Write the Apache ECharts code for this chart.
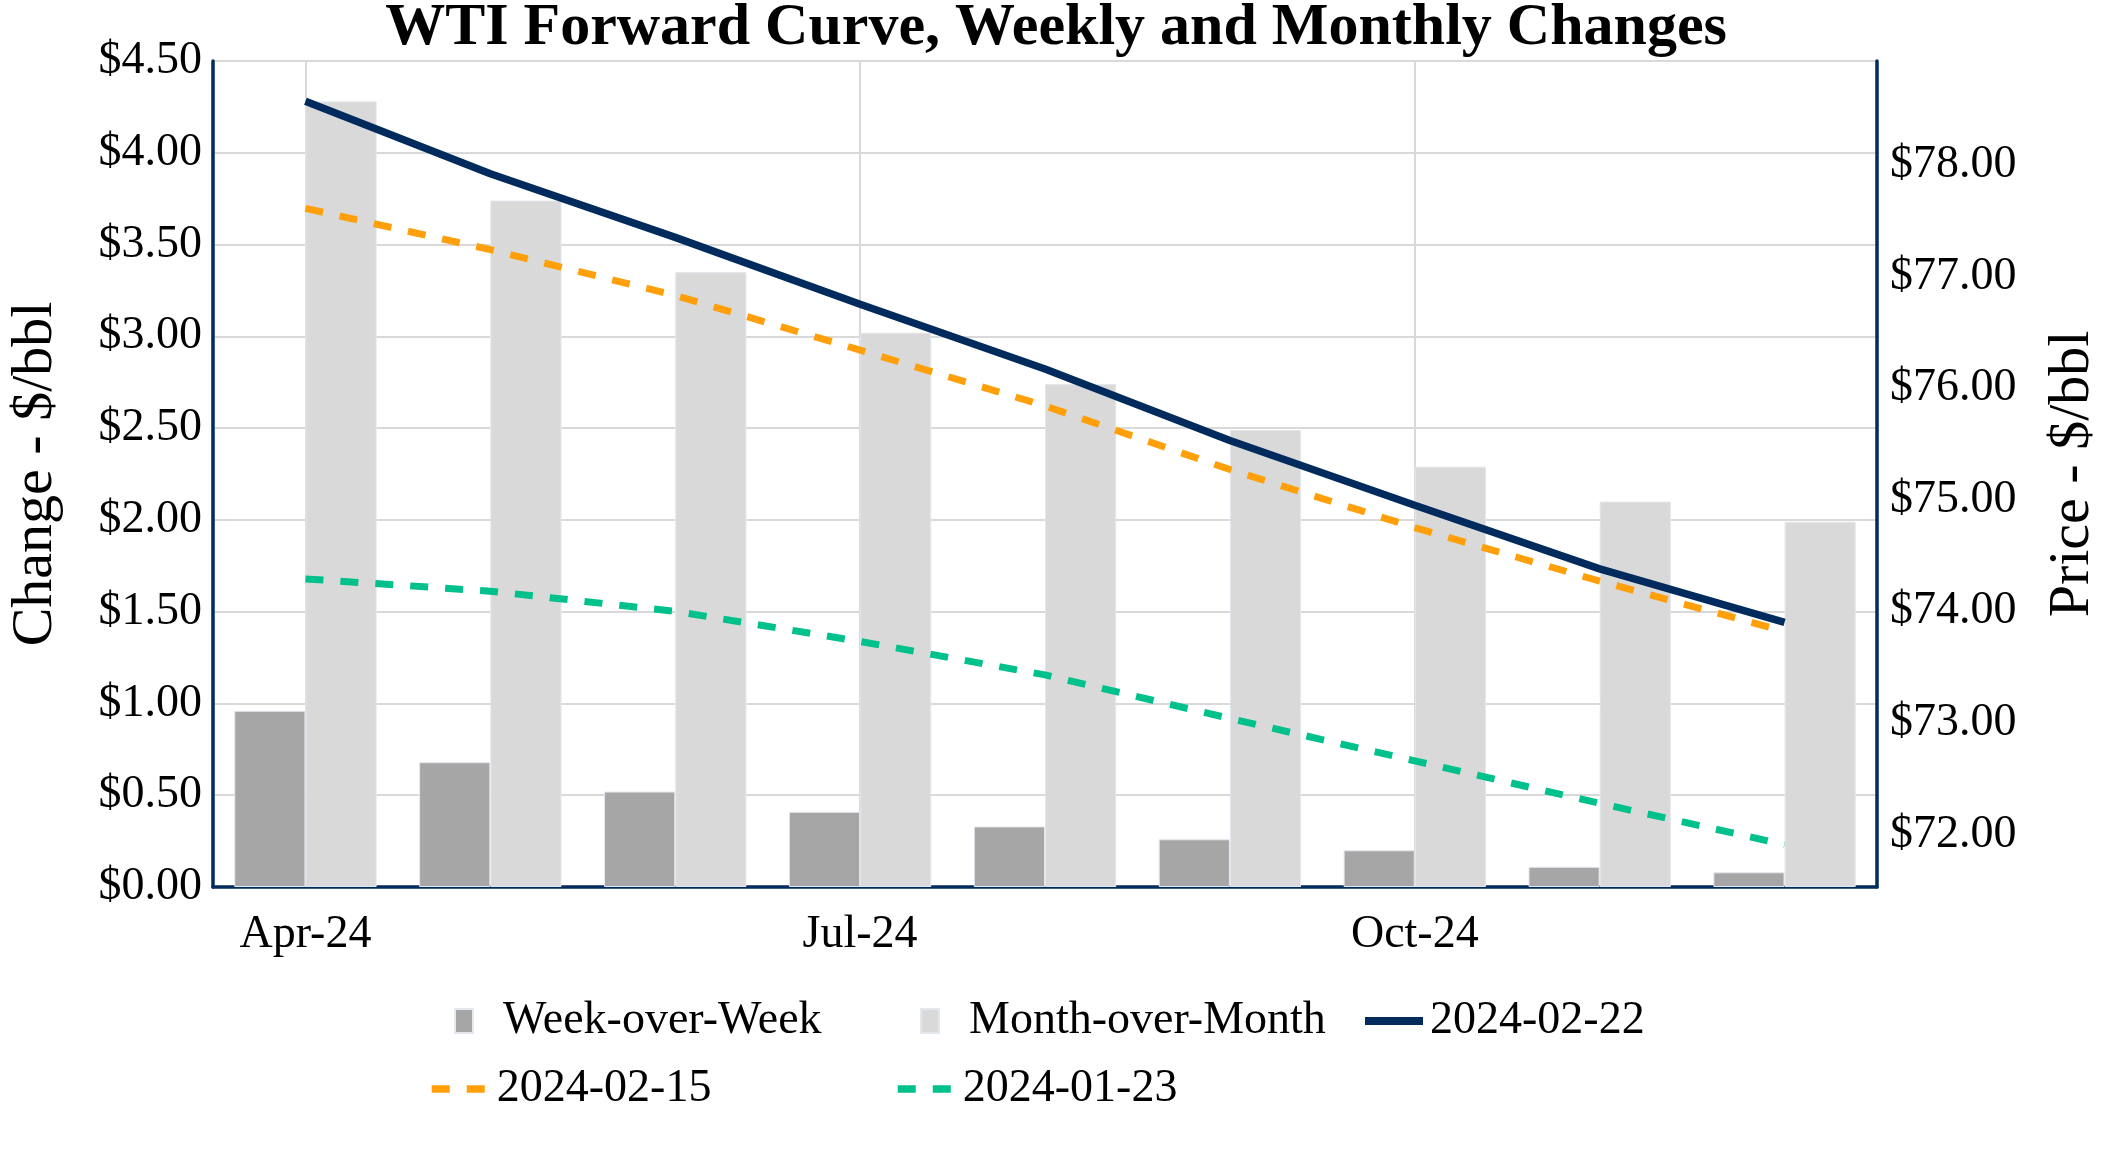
<!DOCTYPE html>
<html>
<head>
<meta charset="utf-8">
<script src="https://cdn.jsdelivr.net/npm/echarts@6/dist/echarts.min.js"></script>
<style>
html,body{margin:0;padding:0;background:#fff;}
#chart{width:2112px;height:1152px;}
</style>
</head>
<body>
<div id="chart"></div>
<script>
// ---- data ----
const categories = ['Apr-24','May-24','Jun-24','Jul-24','Aug-24','Sep-24','Oct-24','Nov-24','Dec-24'];
const tickLabels = ['Apr-24','Jul-24','Oct-24'];
const weekOverWeek = [0.96, 0.68, 0.52, 0.41, 0.33, 0.26, 0.20, 0.11, 0.08];
const monthOverMonth = [4.28, 3.74, 3.35, 3.02, 2.74, 2.49, 2.29, 2.10, 1.99];
const curve20240222 = [78.57, 77.92, 77.35, 76.75, 76.17, 75.53, 74.95, 74.38, 73.90];
const curve20240215 = [77.61, 77.24, 76.83, 76.34, 75.84, 75.27, 74.75, 74.27, 73.82];
const curve20240123 = [74.29, 74.18, 74.00, 73.73, 73.43, 73.04, 72.66, 72.28, 71.91];

const FONT = 'Liberation Serif, "Times New Roman", serif';
const NAVY = '#002b5c';
const GRID = '#d9d9d9';

function legendItem(name, left, top, opts, pad) {
  return Object.assign({
    data: [name], left: left, top: top, orient: 'horizontal', padding: 0, itemGap: 0,
    selectedMode: false,
    textStyle: {fontFamily: FONT, fontSize: 46, color: '#000', padding: [0, 0, 0, pad]}
  }, opts);
}
const barIcon = {icon: 'rect', itemWidth: 18, itemHeight: 24};
function lineIcon(w) {
  return {itemWidth: 58, itemHeight: 24, itemStyle: {opacity: 0, borderWidth: 0},
          lineStyle: {width: w}};
}

const chart = echarts.init(document.getElementById('chart'), null, {renderer: 'canvas'});
chart.setOption({
  animation: false,
  backgroundColor: '#fff',
  title: {
    text: 'WTI Forward Curve, Weekly and Monthly Changes',
    left: 'center', top: -7,
    textStyle: {fontFamily: FONT, fontSize: 60, fontWeight: 'bold', color: '#000'}
  },
  legend: [
    legendItem('Week-over-Week', 454, 998, barIcon, 25),
    legendItem('Month-over-Month', 920, 998, barIcon, 25),
    legendItem('2024-02-22', 1361, 998, lineIcon(8), 2),
    legendItem('2024-02-15', 428, 1066, lineIcon(7.5), 2),
    legendItem('2024-01-23', 894, 1066, lineIcon(7.5), 2)
  ],
  grid: {left: 213, right: 235, top: 61, bottom: 265, containLabel: false, outerBoundsMode: 'none'},
  xAxis: {
    type: 'category', data: categories, boundaryGap: true,
    axisLine: {show: true, lineStyle: {color: NAVY, width: 3.5}},
    axisTick: {show: false},
    splitLine: {show: false},
    axisLabel: {
      interval: function (i, v) { return tickLabels.indexOf(v) >= 0; },
      fontFamily: FONT, fontSize: 46, color: '#000', margin: 25
    }
  },
  yAxis: [
    {
      type: 'value', position: 'left', min: 0, max: 4.5, interval: 0.5,
      axisLine: {show: true, lineStyle: {color: NAVY, width: 3.5}},
      axisTick: {show: false},
      splitLine: {show: true, lineStyle: {color: GRID, width: 2}},
      axisLabel: {
        formatter: function (v) { return '$' + v.toFixed(2); },
        fontFamily: FONT, fontSize: 46, color: '#000', margin: 11
      },
      name: 'Change - $/bbl', nameLocation: 'middle', nameGap: 148, nameRotate: 90,
      nameTextStyle: {fontFamily: FONT, fontSize: 58, color: '#000'}
    },
    {
      type: 'value', position: 'right', min: 71.53, max: 78.93, splitNumber: 7,
      axisLine: {show: true, lineStyle: {color: NAVY, width: 3.5}},
      axisTick: {show: false},
      splitLine: {show: false},
      axisLabel: {
        formatter: function (v) { return Math.abs(v - Math.round(v)) < 1e-6 ? '$' + v.toFixed(2) : ''; },
        fontFamily: FONT, fontSize: 46, color: '#000', margin: 13
      },
      name: 'Price - $/bbl', nameLocation: 'middle', nameGap: 167, nameRotate: 90,
      nameTextStyle: {fontFamily: FONT, fontSize: 58, color: '#000'}
    }
  ],
  series: [
    {
      name: 'vgrid', type: 'line', data: categories.map(function () { return null; }),
      z: 1, silent: true, symbol: 'none',
      markLine: {
        silent: true, z: 1, symbol: ['none', 'none'], animation: false,
        label: {show: false}, emphasis: {disabled: true},
        lineStyle: {color: GRID, width: 2, type: 'solid'},
        data: tickLabels.map(function (v) { return {xAxis: v}; })
      }
    },
    {
      name: 'Week-over-Week', type: 'bar', data: weekOverWeek, z: 2,
      barGap: '0%', barCategoryGap: '23%',
      itemStyle: {color: '#a6a6a6', borderColor: '#e3e7ee', borderWidth: 1}
    },
    {
      name: 'Month-over-Month', type: 'bar', data: monthOverMonth, z: 2,
      barGap: '0%', barCategoryGap: '23%',
      itemStyle: {color: '#d9d9d9', borderColor: '#e3e7ee', borderWidth: 1}
    },
    {
      name: '2024-02-22', type: 'line', yAxisIndex: 1, data: curve20240222, z: 3,
      symbol: 'none', showSymbol: false,
      lineStyle: {color: NAVY, width: 7.5, type: 'solid'}, itemStyle: {color: NAVY}
    },
    {
      name: '2024-02-15', type: 'line', yAxisIndex: 1, data: curve20240215, z: 3,
      symbol: 'none', showSymbol: false,
      lineStyle: {color: '#ffa00a', width: 7, type: [18, 17]}, itemStyle: {color: '#ffa00a'}
    },
    {
      name: '2024-01-23', type: 'line', yAxisIndex: 1, data: curve20240123, z: 3,
      symbol: 'none', showSymbol: false,
      lineStyle: {color: '#00c08b', width: 7, type: [18, 17]}, itemStyle: {color: '#00c08b'}
    }
  ]
});
</script>
</body>
</html>
